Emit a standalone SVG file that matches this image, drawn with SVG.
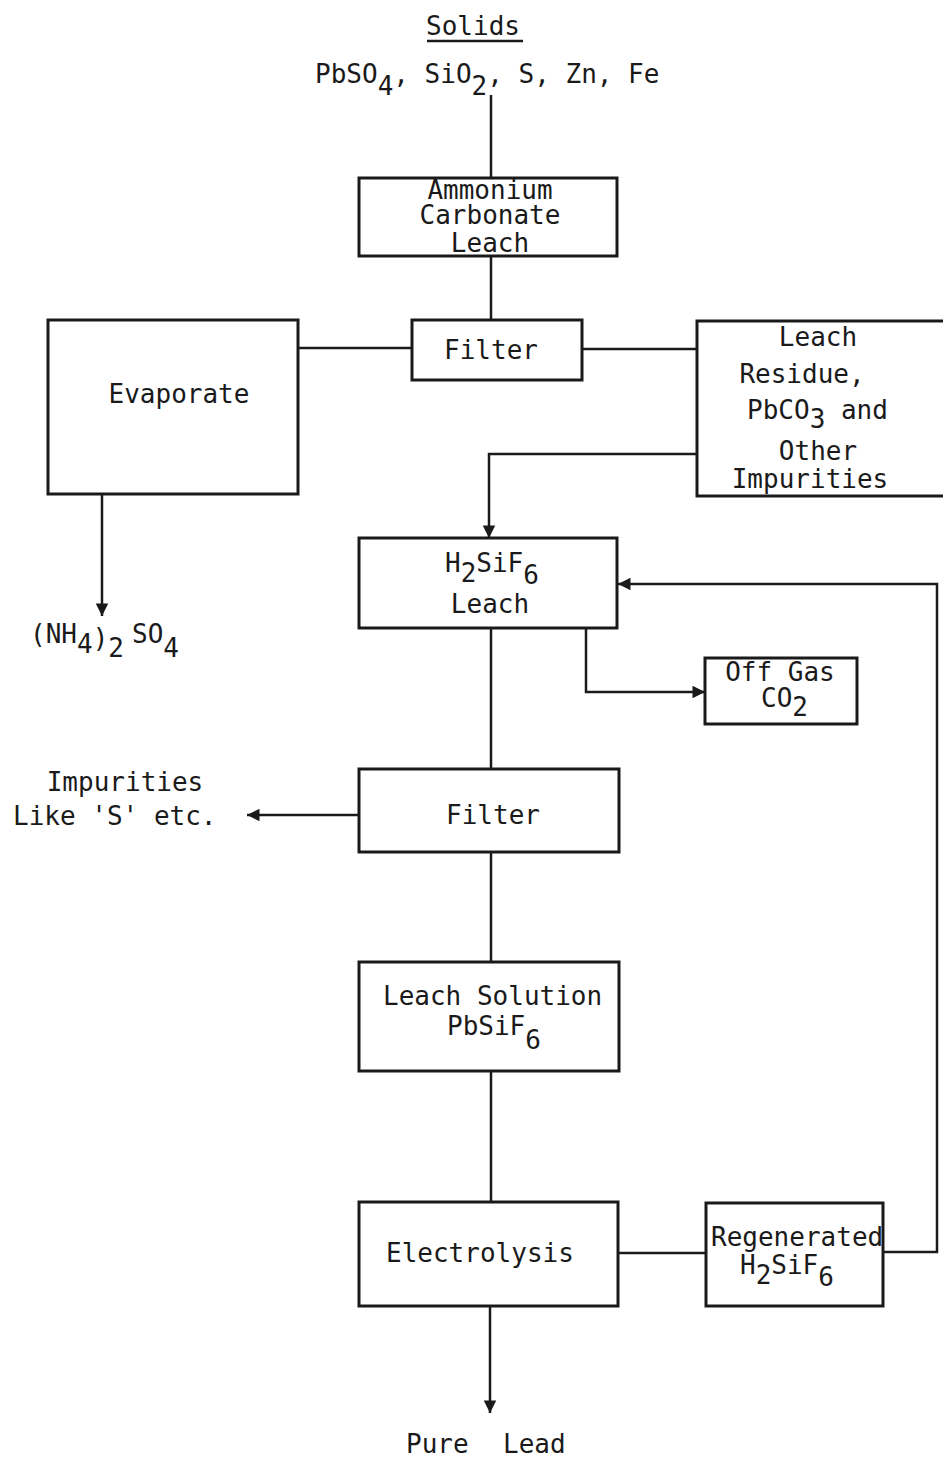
<svg xmlns="http://www.w3.org/2000/svg" width="943" height="1458" viewBox="0 0 943 1458">
<defs>
<style>
.t{font-family:"DejaVu Sans Mono","Liberation Mono",monospace;font-size:26px;fill:#1a1a1a}
.b{fill:none;stroke:#1a1a1a;stroke-width:3}
.c{fill:none;stroke:#1a1a1a;stroke-width:2.5}
</style>
<marker id="ah" viewBox="0 0 10 10" refX="10" refY="5" markerWidth="5.5" markerHeight="5" orient="auto" markerUnits="strokeWidth">
<path d="M0,0 L10,5 L0,10 z" fill="#1a1a1a"/>
</marker>
</defs>
<rect width="943" height="1458" fill="#fff"/>
<g id="connectors">
<line class="c" x1="427" y1="41" x2="523" y2="41"/>
<line class="c" x1="491" y1="95" x2="491" y2="178"/>
<line class="c" x1="491" y1="256" x2="491" y2="320"/>
<line class="c" x1="298" y1="348" x2="412" y2="348"/>
<line class="c" x1="582" y1="349" x2="697" y2="349"/>
<polyline class="c" points="697,454 489,454 489,538" marker-end="url(#ah)"/>
<line class="c" x1="102" y1="494" x2="102" y2="616" marker-end="url(#ah)"/>
<polyline class="c" points="884,1252 937,1252 937,584 618,584" marker-end="url(#ah)"/>
<polyline class="c" points="586,628 586,692 705,692" marker-end="url(#ah)"/>
<line class="c" x1="491" y1="628" x2="491" y2="769"/>
<line class="c" x1="359" y1="815" x2="247" y2="815" marker-end="url(#ah)"/>
<line class="c" x1="491" y1="852" x2="491" y2="962"/>
<line class="c" x1="491" y1="1071" x2="491" y2="1202"/>
<line class="c" x1="618" y1="1253" x2="706" y2="1253"/>
<line class="c" x1="490" y1="1306" x2="490" y2="1413" marker-end="url(#ah)"/>
</g>
<g id="solids">
<text class="t" x="473" y="35" text-anchor="middle">Solids</text>
<text class="t" x="315" y="83">PbSO<tspan dy="12">4</tspan><tspan dy="-12">, SiO</tspan><tspan dy="12">2</tspan><tspan dy="-12">, S, Zn, Fe</tspan></text>
</g>
<g id="ammonium">
<rect class="b" x="359" y="178" width="258" height="78"/>
<text class="t" x="490" y="199" text-anchor="middle">Ammonium</text>
<text class="t" x="490" y="224" text-anchor="middle">Carbonate</text>
<text class="t" x="490" y="252" text-anchor="middle">Leach</text>
</g>
<g id="filter1">
<rect class="b" x="412" y="320" width="170" height="60"/>
<text class="t" x="491" y="359" text-anchor="middle">Filter</text>
</g>
<g id="evaporate">
<rect class="b" x="48" y="320" width="250" height="174"/>
<text class="t" x="179" y="403" text-anchor="middle">Evaporate</text>
</g>
<g id="residue">
<rect class="b" x="697" y="321" width="260" height="175"/>
<text class="t" x="818" y="346" text-anchor="middle">Leach</text>
<text class="t" x="802" y="383" text-anchor="middle">Residue,</text>
<text class="t" x="747" y="419">PbCO<tspan dy="9">3</tspan><tspan dy="-9"> and</tspan></text>
<text class="t" x="818" y="460" text-anchor="middle">Other</text>
<text class="t" x="810" y="488" text-anchor="middle">Impurities</text>
</g>
<g id="nh4so4">
<text class="t" x="30" y="643">(NH<tspan dy="10">4</tspan><tspan dy="-6">)</tspan><tspan dy="10">2</tspan></text>
<text class="t" x="132" y="643">SO<tspan dy="14">4</tspan></text>
</g>
<g id="h2sif6leach">
<rect class="b" x="359" y="538" width="258" height="90"/>
<text class="t" x="445" y="572">H<tspan dy="10">2</tspan><tspan dy="-10">SiF</tspan><tspan dy="12">6</tspan></text>
<text class="t" x="490" y="613" text-anchor="middle">Leach</text>
</g>
<g id="offgas">
<rect class="b" x="705" y="658" width="152" height="66"/>
<text class="t" x="780" y="681" text-anchor="middle">Off Gas</text>
<text class="t" x="761" y="707">CO<tspan dy="9">2</tspan></text>
</g>
<g id="filter2">
<rect class="b" x="359" y="769" width="260" height="83"/>
<text class="t" x="493" y="824" text-anchor="middle">Filter</text>
</g>
<g id="impurities">
<text class="t" x="125" y="791" text-anchor="middle">Impurities</text>
<text class="t" x="13" y="825">Like 'S' etc.</text>
</g>
<g id="leachsolution">
<rect class="b" x="359" y="962" width="260" height="109"/>
<text class="t" x="383" y="1005">Leach Solution</text>
<text class="t" x="447" y="1035">PbSiF<tspan dy="14">6</tspan></text>
</g>
<g id="electrolysis">
<rect class="b" x="359" y="1202" width="259" height="104"/>
<text class="t" x="386" y="1262">Electrolysis</text>
</g>
<g id="regenerated">
<rect class="b" x="706" y="1203" width="177" height="103"/>
<text class="t" x="711" y="1246">Regenerated</text>
<text class="t" x="740" y="1274">H<tspan dy="10">2</tspan><tspan dy="-10">SiF</tspan><tspan dy="12">6</tspan></text>
</g>
<g id="purelead">
<text class="t" x="406" y="1453">Pure</text>
<text class="t" x="503" y="1453">Lead</text>
</g>
</svg>
